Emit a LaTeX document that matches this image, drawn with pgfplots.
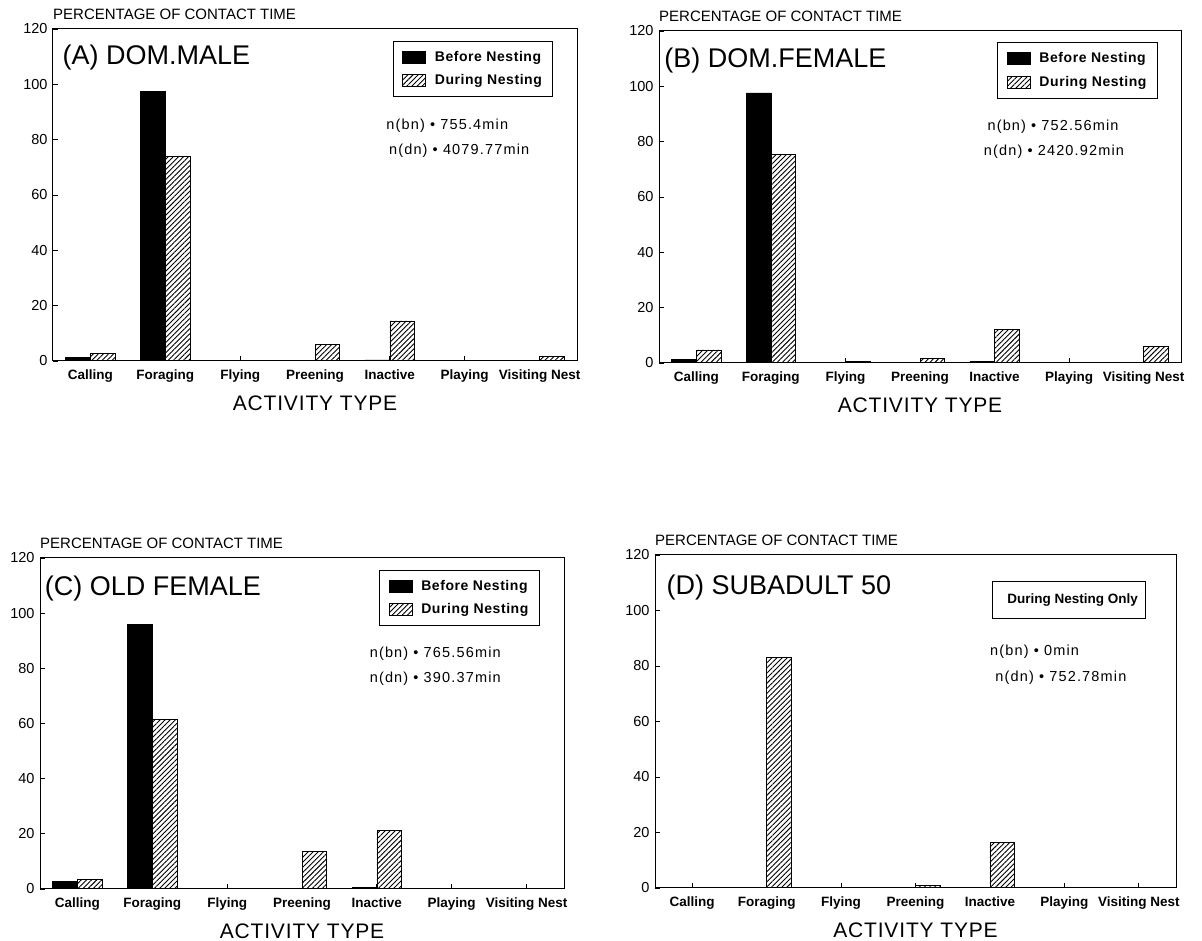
\documentclass[border=0pt]{standalone}
\usepackage{pgfplots}
\pgfplotsset{compat=1.18}
\usepackage{fontspec}
\setmainfont{Liberation Sans}
\usetikzlibrary{patterns.meta}

\tikzset{
  title node/.style={anchor=west, inner sep=0pt, font=\fontsize{27}{30}\selectfont},
  n node/.style={anchor=west, inner sep=0pt, font=\addfontfeatures{LetterSpace=8}\fontsize{14.5}{16}\selectfont},
}

\pgfplotsset{
  panel/.style={
    scale only axis, anchor=south west,
    ybar, bar width=0.33,
    xmin=-0.5, xmax=6.5, ymin=0, ymax=120,
    xtick={0,...,6},
    xticklabels={Calling,Foraging,Flying,Preening,Inactive,Playing,Visiting Nest},
    ytick={0,20,...,120},
    tick align=inside, xtick pos=bottom, ytick pos=left,
    major tick length=5pt,
    axis line style={line width=1pt},
    tick style={line width=0.8pt, black},
    /pgf/number format/assume math mode=true,
    xticklabel style={font=\bfseries\fontsize{13.5}{16}\selectfont, yshift=-5pt},
    yticklabel style={font=\fontsize{14.5}{16}\selectfont, xshift=-2pt},
    ylabel={PERCENTAGE OF CONTACT TIME},
    ylabel style={rotate=-90, at={(rel axis cs:0,1)}, anchor=south west, inner sep=0pt, yshift=9pt, font=\fontsize{15}{17}\selectfont},
    xlabel={ACTIVITY TYPE},
    xlabel style={at={(rel axis cs:0.5,0)}, anchor=center, yshift=-42pt, font=\addfontfeatures{LetterSpace=4}\fontsize{21}{24}\selectfont},
    legend style={draw=black, line width=1pt, inner xsep=9pt, inner ysep=8pt,
      font=\bfseries\addfontfeatures{LetterSpace=4}\fontsize{14}{16}\selectfont, row sep=8pt,
      cells={anchor=west},
      /tikz/every odd column/.append style={column sep=7pt}},
  },
  before/.style={fill=black, draw=black, line width=0.6pt, bar shift=-0.165,
    legend image code/.code={\draw[fill=black, draw=black, line width=0.6pt] (0pt,-6pt) rectangle (23pt,6pt);}},
  during/.style={fill=white, draw=black, line width=0.7pt, bar shift=0.165,
    pattern={Lines[angle=45,distance=3.6pt,line width=0.9pt]},
    legend image code/.code={\draw[draw=black, line width=0.6pt, pattern={Lines[angle=45,distance=3.6pt,line width=0.9pt]}] (0pt,-6pt) rectangle (23pt,6pt);}},
}

\begin{document}
\begin{tikzpicture}
\useasboundingbox (0,0) rectangle (1202pt,941pt);

% (A)
\begin{axis}[panel, at={(53pt,580pt)}, width=524pt, height=332pt,
  legend style={at={(0.955,0.965)}, anchor=north east}]
\addplot[before] coordinates {(0,1.4) (1,97.5) (2,0.1) (3,0) (4,0.4) (5,0) (6,0)};
\addlegendentry{Before Nesting}
\addplot[during] coordinates {(0,2.8) (1,73.9) (2,0.3) (3,6.0) (4,14.5) (5,0) (6,1.8)};
\addlegendentry{During Nesting}
\node[title node] at (rel axis cs:0.018,0.913) {(A) DOM.MALE};
\node[n node] at (rel axis cs:0.636,0.709) {n(bn) • 755.4min};
\node[n node] at (rel axis cs:0.641,0.634) {n(dn) • 4079.77min};
\end{axis}

% (B)
\begin{axis}[panel, at={(659pt,578pt)}, width=522pt, height=332pt,
  legend style={at={(0.956,0.966)}, anchor=north east}]
\addplot[before] coordinates {(0,1.2) (1,97.6) (2,0) (3,0) (4,0.6) (5,0) (6,0)};
\addlegendentry{Before Nesting}
\addplot[during] coordinates {(0,4.7) (1,75.4) (2,0.5) (3,1.8) (4,12.2) (5,0) (6,6.0)};
\addlegendentry{During Nesting}
\node[title node] at (rel axis cs:0.010,0.910) {(B) DOM.FEMALE};
\node[n node] at (rel axis cs:0.629,0.711) {n(bn) • 752.56min};
\node[n node] at (rel axis cs:0.622,0.636) {n(dn) • 2420.92min};
\end{axis}

% (C)
\begin{axis}[panel, at={(40pt,52pt)}, width=524pt, height=331pt,
  legend style={at={(0.954,0.965)}, anchor=north east}]
\addplot[before] coordinates {(0,2.8) (1,95.9) (2,0) (3,0) (4,0.5) (5,0) (6,0)};
\addlegendentry{Before Nesting}
\addplot[during] coordinates {(0,3.6) (1,61.4) (2,0) (3,13.6) (4,21.1) (5,0) (6,0)};
\addlegendentry{During Nesting}
\node[title node] at (rel axis cs:0.009,0.909) {(C) OLD FEMALE};
\node[n node] at (rel axis cs:0.629,0.711) {n(bn) • 765.56min};
\node[n node] at (rel axis cs:0.629,0.636) {n(dn) • 390.37min};
\end{axis}

% (D)
\begin{axis}[panel, at={(655pt,53pt)}, width=521pt, height=333pt,
  legend style={at={(0.943,0.923)}, anchor=north east, inner ysep=11pt, inner xsep=6pt,
    font=\bfseries\fontsize{13.5}{15}\selectfont}]
\addlegendimage{empty legend}
\addlegendentry{During Nesting Only}
\addplot[during, forget plot] coordinates {(0,0) (1,83.2) (2,0) (3,0.8) (4,16.3) (5,0) (6,0)};
\node[title node] at (rel axis cs:0.022,0.902) {(D) SUBADULT 50};
\node[n node] at (rel axis cs:0.643,0.710) {n(bn) • 0min};
\node[n node] at (rel axis cs:0.653,0.632) {n(dn) • 752.78min};
\end{axis}
\end{tikzpicture}
\end{document}
